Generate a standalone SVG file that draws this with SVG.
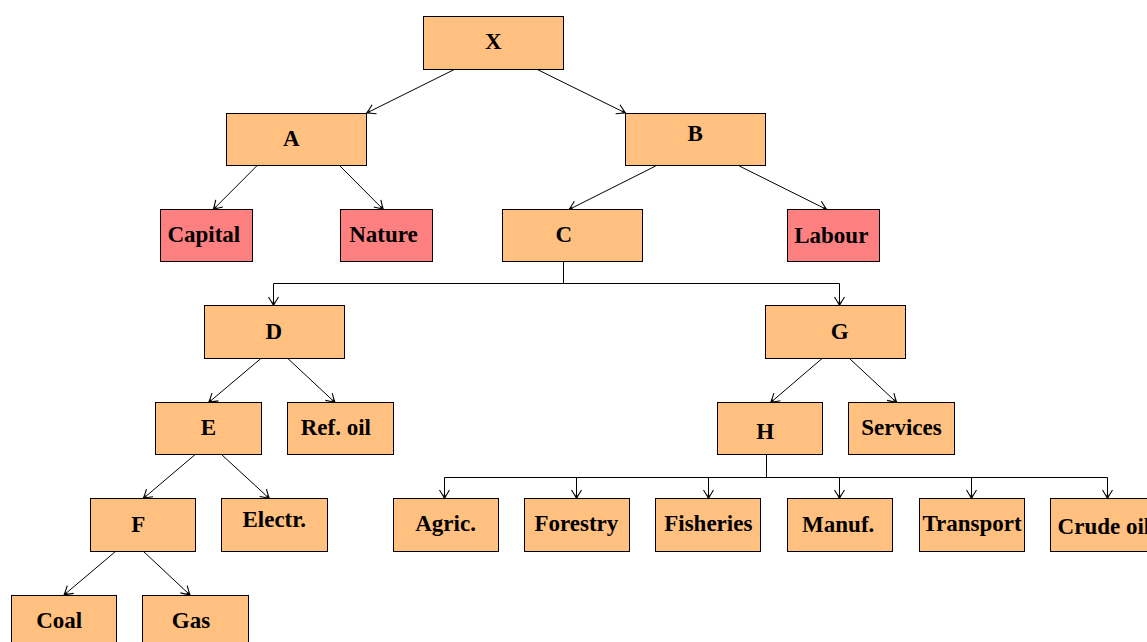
<svg xmlns="http://www.w3.org/2000/svg" width="1147" height="642" viewBox="0 0 1147 642">
<style>
.n rect{fill:#ffc080;stroke:#000;stroke-width:1}
.n.r rect{fill:#ff8080}
.n text{font-family:"Liberation Serif","Times New Roman",serif;font-weight:bold;font-size:23px;text-anchor:middle;fill:#000}
#edges path{fill:none;stroke:#000;stroke-width:1;marker-end:url(#ah)}
</style>
<defs>
<marker id="ah" markerUnits="userSpaceOnUse" markerWidth="14" markerHeight="14" viewBox="-10 -7 12 14" refX="0" refY="0" orient="auto">
<path d="M-8.5,-5 Q-3,-1.5 0,0 Q-3,1.5 -8.5,5" fill="none" stroke="#000" stroke-width="1.1"/>
<path d="M0,0 L-4,-1.4 L-3.2,0 L-4,1.4 Z" fill="#000"/>
</marker>
</defs>
<rect width="1147" height="642" fill="#fff"/>
<g id="edges">
<path d="M454.3,69.5 L366.7,113"/>
<path d="M537.3,69.5 L625.5,113"/>
<path d="M256.7,166 L213.3,209.5"/>
<path d="M340,166 L383.3,209.5"/>
<path d="M655.7,166 L569,209.5"/>
<path d="M739.3,166 L826.7,209.5"/>
<path d="M563.5,262 V283.5 H273.5 V305.5"/>
<path d="M563.5,262 V283.5 H839.5 V305.5"/>
<path d="M260.7,358.7 L208.7,402.5"/>
<path d="M288,358.7 L335,402.5"/>
<path d="M195,454.7 L143.3,498.5"/>
<path d="M221.7,454.7 L269.3,498.5"/>
<path d="M115.7,551.3 L64,595"/>
<path d="M143.3,551.3 L190,595"/>
<path d="M822.3,358.3 L770.7,402.5"/>
<path d="M849.3,358.3 L896.7,402.5"/>
<path d="M766.5,455 V477.5 H444.5 V498.5"/>
<path d="M766.5,455 V477.5 H576.5 V498.5"/>
<path d="M766.5,455 V477.5 H708.5 V498.5"/>
<path d="M766.5,455 V477.5 H839.5 V498.5"/>
<path d="M766.5,455 V477.5 H971.5 V498.5"/>
<path d="M766.5,455 V477.5 H1107.5 V498.5"/>
</g>
<g id="X" class="n"><rect x="423.5" y="16.5" width="140" height="53"/><text x="493.3" y="49">X</text></g>
<g id="A" class="n"><rect x="226.5" y="113.5" width="140" height="52"/><text x="291.3" y="146">A</text></g>
<g id="B" class="n"><rect x="625.5" y="113.5" width="140" height="52"/><text x="695.2" y="140.7">B</text></g>
<g id="Capital" class="n r"><rect x="160.5" y="209.5" width="92" height="52"/><text x="203.8" y="242.3">Capital</text></g>
<g id="Nature" class="n r"><rect x="340.5" y="209.5" width="92" height="52"/><text x="383.5" y="242.3">Nature</text></g>
<g id="C" class="n"><rect x="502.5" y="209.5" width="140" height="52"/><text x="563.7" y="242.3">C</text></g>
<g id="Labour" class="n r"><rect x="787.5" y="209.5" width="92" height="52"/><text x="831.3" y="242.7">Labour</text></g>
<g id="D" class="n"><rect x="204.5" y="305.5" width="140" height="53"/><text x="273.8" y="339">D</text></g>
<g id="G" class="n"><rect x="765.5" y="305.5" width="140" height="53"/><text x="839.8" y="339.3">G</text></g>
<g id="E" class="n"><rect x="155.5" y="402.5" width="106" height="52"/><text x="208.5" y="435">E</text></g>
<g id="RefOil" class="n"><rect x="287.5" y="402.5" width="106" height="52"/><text x="335.8" y="435">Ref. oil</text></g>
<g id="H" class="n"><rect x="717.5" y="402.5" width="105" height="52"/><text x="765.3" y="439.3">H</text></g>
<g id="Services" class="n"><rect x="848.5" y="402.5" width="106" height="52"/><text x="901.5" y="435">Services</text></g>
<g id="F" class="n"><rect x="90.5" y="498.5" width="105" height="53"/><text x="138.3" y="531.7">F</text></g>
<g id="Electr" class="n"><rect x="221.5" y="498.5" width="106" height="53"/><text x="274.3" y="527">Electr.</text></g>
<g id="Agric" class="n"><rect x="393.5" y="498.5" width="105" height="53"/><text x="445.6" y="531.3">Agric.</text></g>
<g id="Forestry" class="n"><rect x="524.5" y="498.5" width="105" height="53"/><text x="576.4" y="530.7">Forestry</text></g>
<g id="Fisheries" class="n"><rect x="655.5" y="498.5" width="105" height="53"/><text x="708.3" y="530.7">Fisheries</text></g>
<g id="Manuf" class="n"><rect x="787.5" y="498.5" width="105" height="53"/><text x="838.2" y="532.3">Manuf.</text></g>
<g id="Transport" class="n"><rect x="919.5" y="498.5" width="105" height="53"/><text x="972" y="530.5">Transport</text></g>
<g id="CrudeOil" class="n"><rect x="1050.5" y="498.5" width="105" height="53"/><text x="1103.9" y="534.3">Crude oil</text></g>
<g id="Coal" class="n"><rect x="11.5" y="595.5" width="105" height="53"/><text x="59.2" y="628.3">Coal</text></g>
<g id="Gas" class="n"><rect x="142.5" y="595.5" width="106" height="53"/><text x="191" y="628.3">Gas</text></g>
</svg>
